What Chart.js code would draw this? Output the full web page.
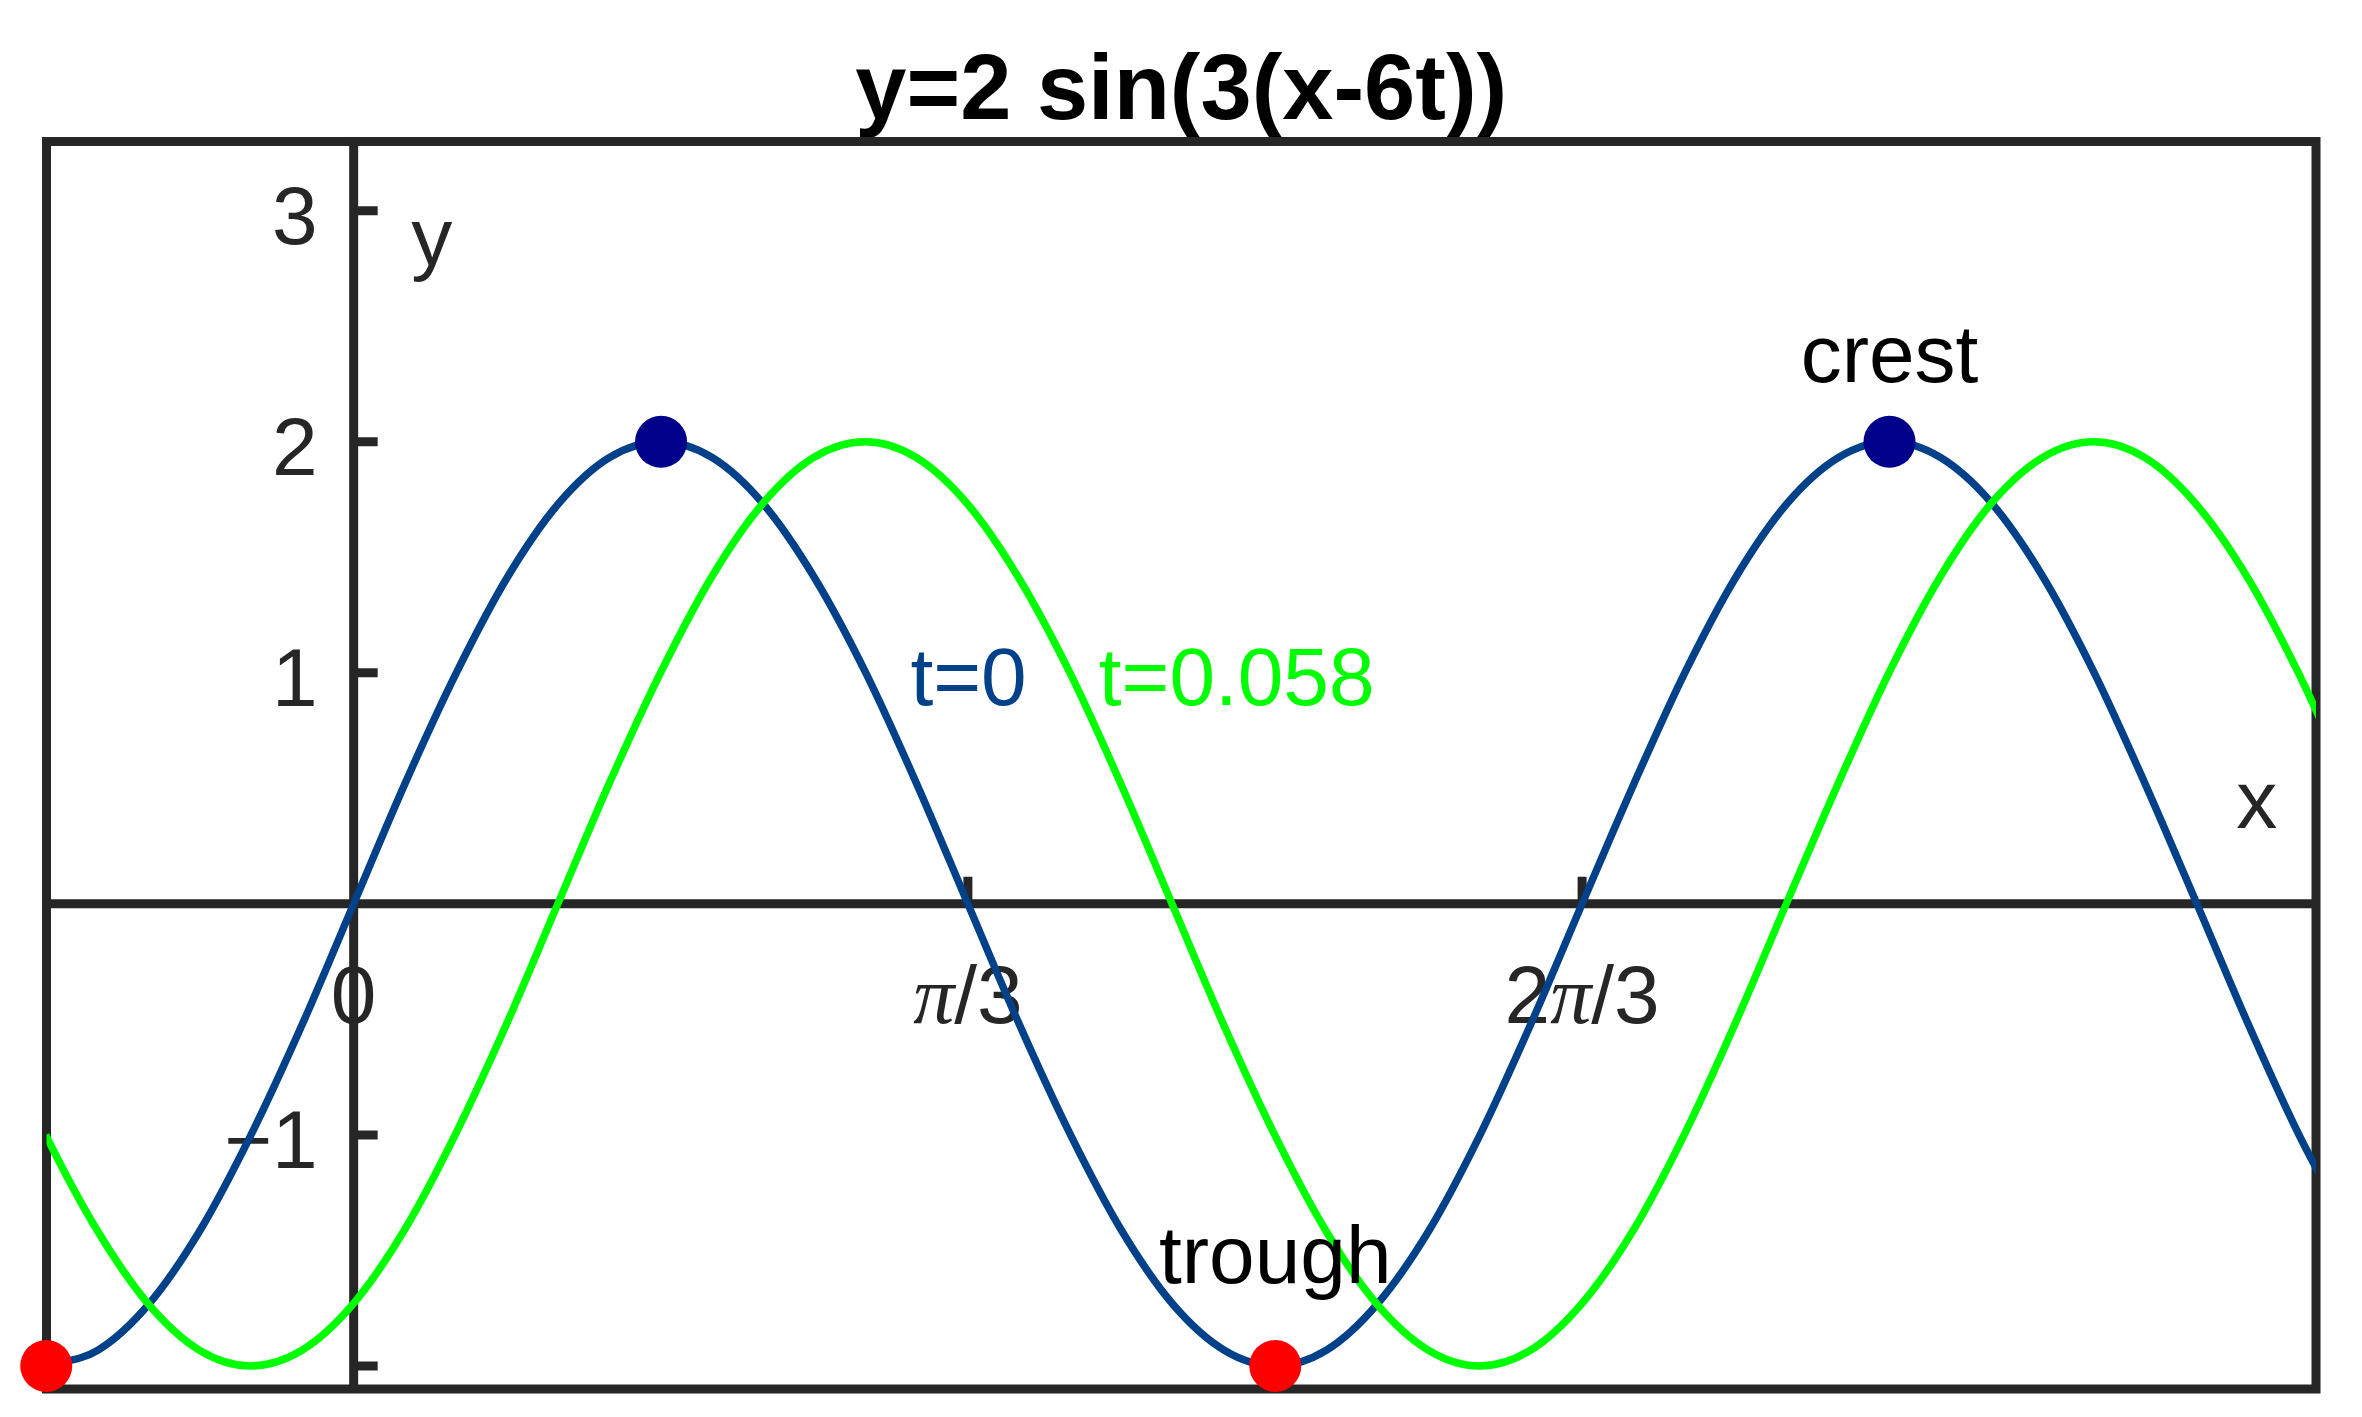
<!DOCTYPE html>
<html lang="en">
<head>
<meta charset="UTF-8">
<title>y=2 sin(3(x-6t))</title>
<script src="https://cdn.jsdelivr.net/npm/chart.js"></script>
<style>
  body { margin: 0; background: #fff; }
  #wrap { width: 2362px; height: 1417px; }
</style>
</head>
<body>
<div id="wrap"><canvas id="waveChart" width="2362" height="1417"></canvas></div>
<script>
const titleText = 'y=2 sin(3(x-6t))';

// wave at t = 0
const xT0 = [-0.524, -0.436, -0.349, -0.262, -0.175, -0.087, 0, 0.087, 0.175, 0.262, 0.349, 0.436,
  0.524, 0.611, 0.698, 0.785, 0.873, 0.960, 1.047, 1.134, 1.222, 1.309, 1.396, 1.484, 1.571, 1.658,
  1.745, 1.833, 1.920, 2.007, 2.094, 2.182, 2.269, 2.356, 2.443, 2.531, 2.618, 2.705, 2.793, 2.880,
  2.967, 3.054, 3.142, 3.229, 3.316, 3.403];
const yT0 = [-2, -1.932, -1.732, -1.414, -1, -0.518, 0, 0.518, 1, 1.414, 1.732, 1.932,
  2, 1.932, 1.732, 1.414, 1, 0.518, 0, -0.518, -1, -1.414, -1.732, -1.932, -2, -1.932,
  -1.732, -1.414, -1, -0.518, 0, 0.518, 1, 1.414, 1.732, 1.932, 2, 1.932, 1.732, 1.414,
  1, 0.518, 0, -0.518, -1, -1.414];

// wave at t = 0.058
const xT1 = [-0.612, -0.525, -0.437, -0.350, -0.263, -0.176, -0.088, -0.001, 0.086, 0.173, 0.261,
  0.348, 0.435, 0.523, 0.610, 0.697, 0.784, 0.872, 0.959, 1.046, 1.133, 1.221, 1.308, 1.395, 1.482,
  1.570, 1.657, 1.744, 1.832, 1.919, 2.006, 2.093, 2.181, 2.268, 2.355, 2.442, 2.530, 2.617, 2.704,
  2.791, 2.879, 2.966, 3.053, 3.140, 3.228, 3.315, 3.402];
const yT1 = [-0.518, -1, -1.414, -1.732, -1.932, -2, -1.932, -1.732, -1.414, -1, -0.518,
  0, 0.518, 1, 1.414, 1.732, 1.932, 2, 1.932, 1.732, 1.414, 1, 0.518, 0, -0.518,
  -1, -1.414, -1.732, -1.932, -2, -1.932, -1.732, -1.414, -1, -0.518, 0, 0.518, 1, 1.414,
  1.732, 1.932, 2, 1.932, 1.732, 1.414, 1, 0.518];

const crestX = [0.524, 2.618];
const crestY = [2, 2];
const troughX = [-0.524, 1.571];
const troughY = [-2, -2];

const xTicks = [0, 1.047, 2.094];
const xTickLabels = ['0', 'π/3', '2π/3'];
const yTicks = [-2, -1, 1, 2, 3];
const yTickLabels = ['', '−1', '1', '2', '3'];

const SANS = '"Liberation Sans", Arial, sans-serif';
const AXIS = '#262626';
const BLUE = '#00418a';
const GREEN = '#00ff00';

// text notes placed in data coordinates
const notes = [
  { text: 'crest', x: 2.618, y: 2.26, color: '#000', align: 'center' },
  { text: 'trough', x: 1.571, y: -1.64, color: '#000', align: 'center' },
  { text: 't=0', x: 0.949, y: 0.862, color: BLUE, align: 'left' },
  { text: 't=0.058', x: 1.270, y: 0.862, color: GREEN, align: 'left' },
  { text: 'y', x: 0.098, y: 2.767, color: AXIS, align: 'left' },
  { text: 'x', x: 3.209, y: 0.33, color: AXIS, align: 'left' }
];

const toPoints = (xs, ys) => xs.map((x, i) => ({ x: x, y: ys[i] }));

function drawTickLabel(ctx, label, cx, base) {
  const parts = label.split(/(π)/).filter(s => s);
  const fontOf = s => s === 'π' ? 'italic 82px "Liberation Serif", serif' : '82px ' + SANS;
  let w = 0;
  parts.forEach(s => { ctx.font = fontOf(s); w += ctx.measureText(s).width; });
  let px = cx - w / 2;
  ctx.textAlign = 'left';
  parts.forEach(s => {
    ctx.font = fontOf(s);
    ctx.fillText(s, px, base);
    px += ctx.measureText(s).width;
  });
}

const crossAxes = {
  id: 'crossAxes',
  beforeDraw(chart) {
    const { ctx, chartArea: a } = chart;
    ctx.save();
    ctx.fillStyle = '#000';
    ctx.font = 'bold 92px ' + SANS;
    ctx.textAlign = 'center';
    ctx.fillText(titleText, (a.left + a.right) / 2, a.top - 23);
    ctx.restore();
  },
  beforeDatasetsDraw(chart) {
    const { ctx, chartArea: a, scales: { x, y } } = chart;
    const x0 = x.getPixelForValue(0);
    const y0 = y.getPixelForValue(0);
    ctx.save();
    ctx.fillStyle = AXIS;
    ctx.font = '82px ' + SANS;
    ctx.textAlign = 'right';
    yTicks.forEach((v, i) => ctx.fillText(yTickLabels[i], x0 - 36, y.getPixelForValue(v) + 33));
    xTicks.forEach((v, i) => drawTickLabel(ctx, xTickLabels[i], x.getPixelForValue(v), y0 + 119));

    ctx.strokeStyle = AXIS;
    ctx.lineWidth = 9;
    ctx.strokeRect(a.left, a.top, a.right - a.left, a.bottom - a.top);
    ctx.beginPath();
    ctx.moveTo(a.left, y0); ctx.lineTo(a.right, y0);
    ctx.moveTo(x0, a.top); ctx.lineTo(x0, a.bottom);
    yTicks.forEach(v => {
      const p = y.getPixelForValue(v);
      ctx.moveTo(x0, p); ctx.lineTo(x0 + 24, p);
    });
    xTicks.forEach(v => {
      const p = x.getPixelForValue(v);
      ctx.moveTo(p, y0); ctx.lineTo(p, y0 - 27);
    });
    ctx.stroke();
    ctx.restore();
  },
  afterDatasetsDraw(chart) {
    const { ctx, scales: { x, y } } = chart;
    ctx.save();
    ctx.font = '82px ' + SANS;
    notes.forEach(n => {
      ctx.fillStyle = n.color;
      ctx.textAlign = n.align;
      ctx.fillText(n.text, x.getPixelForValue(n.x), y.getPixelForValue(n.y));
    });
    ctx.restore();
  }
};

new Chart(document.getElementById('waveChart'), {
  type: 'scatter',
  data: {
    datasets: [
      {
        label: 'crest',
        data: toPoints(crestX, crestY),
        pointRadius: 26,
        pointBackgroundColor: '#00008b',
        pointBorderWidth: 0,
        clip: false,
        order: 0
      },
      {
        label: 'trough',
        data: toPoints(troughX, troughY),
        pointRadius: 26,
        pointBackgroundColor: '#ff0000',
        pointBorderWidth: 0,
        clip: false,
        order: 0
      },
      {
        label: 't=0.058',
        data: toPoints(xT1, yT1),
        showLine: true,
        borderColor: GREEN,
        borderWidth: 7.5,
        pointRadius: 0,
        cubicInterpolationMode: 'monotone',
        order: 1
      },
      {
        label: 't=0',
        data: toPoints(xT0, yT0),
        showLine: true,
        borderColor: BLUE,
        borderWidth: 7.5,
        pointRadius: 0,
        cubicInterpolationMode: 'monotone',
        order: 2
      }
    ]
  },
  options: {
    responsive: false,
    animation: false,
    events: [],
    layout: { padding: { left: 46.5, right: 46, top: 141.5, bottom: 28 } },
    scales: {
      x: { type: 'linear', min: -0.5236, max: 3.345, display: false },
      y: { type: 'linear', min: -2.1, max: 3.3, display: false }
    },
    plugins: {
      legend: { display: false },
      tooltip: { enabled: false }
    }
  },
  plugins: [crossAxes]
});
</script>
</body>
</html>
